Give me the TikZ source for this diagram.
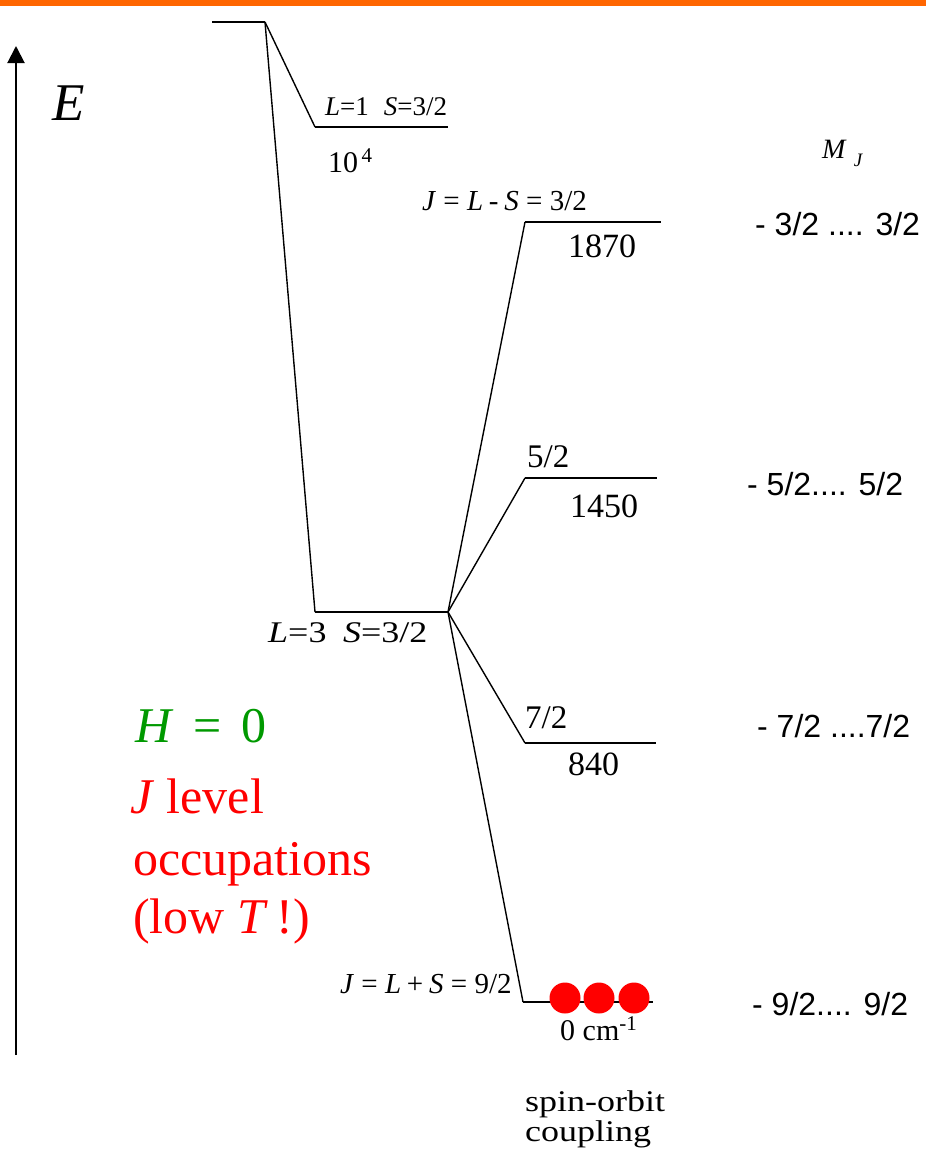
\documentclass[tikz,border=0pt]{standalone}
\usepackage{fontspec}
\setmainfont{Liberation Serif}
\newfontfamily\sansf{Liberation Sans}
\newfontfamily\wideserif[FakeStretch=1.2]{Liberation Serif}
\usetikzlibrary{arrows.meta}
\definecolor{barorange}{RGB}{255,102,0}
\definecolor{hgreen}{RGB}{0,153,0}
\begin{document}
\begin{tikzpicture}[x=1pt,y=-1pt,
  level/.style={line width=2.8pt},
  conn/.style={line width=1.4pt},
  lbl/.style={anchor=base west,inner sep=0pt,font=\fontsize{29}{32}\selectfont},
  num/.style={anchor=base west,inner sep=0pt,font=\fontsize{34}{36}\selectfont},
  mj/.style={anchor=base west,inner sep=0pt,font=\sansf\fontsize{32}{34}\selectfont},
  big/.style={anchor=base west,inner sep=0pt,font=\fontsize{50}{56}\selectfont},
  dot/.style={circle,fill=red,minimum size=31pt,inner sep=0pt}]
\useasboundingbox (0,0) rectangle (926,1151);
\fill[barorange] (0,0) rectangle (926,6);
% energy axis
\coordinate (ax0) at (16,1055);
\coordinate (ax1) at (16,46);
\draw[line width=2pt,-{Triangle[length=17pt,width=17pt]}] (ax0) -- (ax1);
\node[big,font=\fontsize{53}{56}\selectfont] (E) at (52,120) {\textit{E}};
% level endpoints
\coordinate (t1) at (212,22);  \coordinate (t2) at (265,22);
\coordinate (a1) at (315,127); \coordinate (a2) at (448,127);
\coordinate (b1) at (315,612); \coordinate (b2) at (448,612);
\coordinate (c1) at (525,222); \coordinate (c2) at (661,222);
\coordinate (d1) at (525,478); \coordinate (d2) at (657,478);
\coordinate (e1) at (525,743); \coordinate (e2) at (656,743);
\coordinate (f1) at (523,1002); \coordinate (f2) at (653,1002);
% levels
\draw[level] (t1) -- (t2);
\draw[level] (a1) -- (a2);
\draw[level] (b1) -- (b2);
\draw[level] (c1) -- (c2);
\draw[level] (d1) -- (d2);
\draw[level] (e1) -- (e2);
\draw[level] (f1) -- (f2);
% connectors
\draw[conn] (t2) -- (a1);
\draw[conn] (t2) -- (b1);
\draw[conn] (b2) -- (c1);
\draw[conn] (b2) -- (d1);
\draw[conn] (b2) -- (e1);
\draw[conn] (b2) -- (f1);
% level labels
\node[lbl,font=\fontsize{27}{30}\selectfont] (l1) at (325,115) {\textit{L}=1\hspace{0.55em}\textit{S}=3/2};
\node[lbl,font=\fontsize{30}{32}\selectfont] (e4) at (328,172) {10\textsuperscript{\,4}};
\node[lbl] (jls) at (422,210) {\textit{J}\hspace{0.25em}=\hspace{0.25em}\textit{L}\hspace{0.2em}-\hspace{0.2em}\textit{S}\hspace{0.25em}=\hspace{0.25em}3/2};
\node[num] (n1870) at (568,257) {1870};
\node[num,font=\fontsize{33}{36}\selectfont] (l52) at (527,467) {5/2};
\node[num] (n1450) at (570,517) {1450};
\node[lbl,font=\wideserif\fontsize{30}{32}\selectfont] (l3) at (268,642) {\textit{L}=3\hspace{0.55em}\textit{S}=3/2};
\node[num,font=\fontsize{33}{36}\selectfont] (l72) at (525,728) {7/2};
\node[num] (n840) at (568,775) {840};
\node[lbl] (jlps) at (340,993) {\textit{J}\hspace{0.25em}=\hspace{0.25em}\textit{L}\hspace{0.2em}+\hspace{0.2em}\textit{S}\hspace{0.25em}=\hspace{0.25em}9/2};
\node[lbl,font=\fontsize{30}{32}\selectfont] (zero) at (560,1040) {0 cm\textsuperscript{-1}};
\node[lbl,font=\wideserif\fontsize{30}{32}\selectfont] (so1) at (525,1111) {spin-orbit};
\node[lbl,font=\wideserif\fontsize{30}{32}\selectfont] (so2) at (525,1141) {coupling};
% M_J column
\node[anchor=base west,inner sep=0pt,font=\fontsize{28}{30}\selectfont] (mjh) at (822,158) {\textit{M}\hspace{7pt}\raisebox{-8pt}{\fontsize{19}{19}\selectfont\textit{J}}};
\node[mj] (m32) at (755,235) {- 3/2 .... 3/2};
\node[mj] (m52) at (747,495) {- 5/2.... 5/2};
\node[mj] (m72) at (757,737) {- 7/2 ....7/2};
\node[mj] (m92) at (752,1015) {- 9/2.... 9/2};
% occupation dots
\node[dot] (o1) at (565,998) {};
\node[dot] (o2) at (599,998) {};
\node[dot] (o3) at (634,998) {};
% coloured annotation
\node[big,text=hgreen] (h0) at (135,742) {\textit{H}\hspace{0.4em}=\hspace{0.4em}0};
\node[big,text=red] (jl) at (130,813) {\textit{J} level};
\node[big,text=red] (occ) at (133,875) {occupations};
\node[big,text=red] (lowT) at (133,933) {(low \textit{T}\,!)};
\end{tikzpicture}
\end{document}
